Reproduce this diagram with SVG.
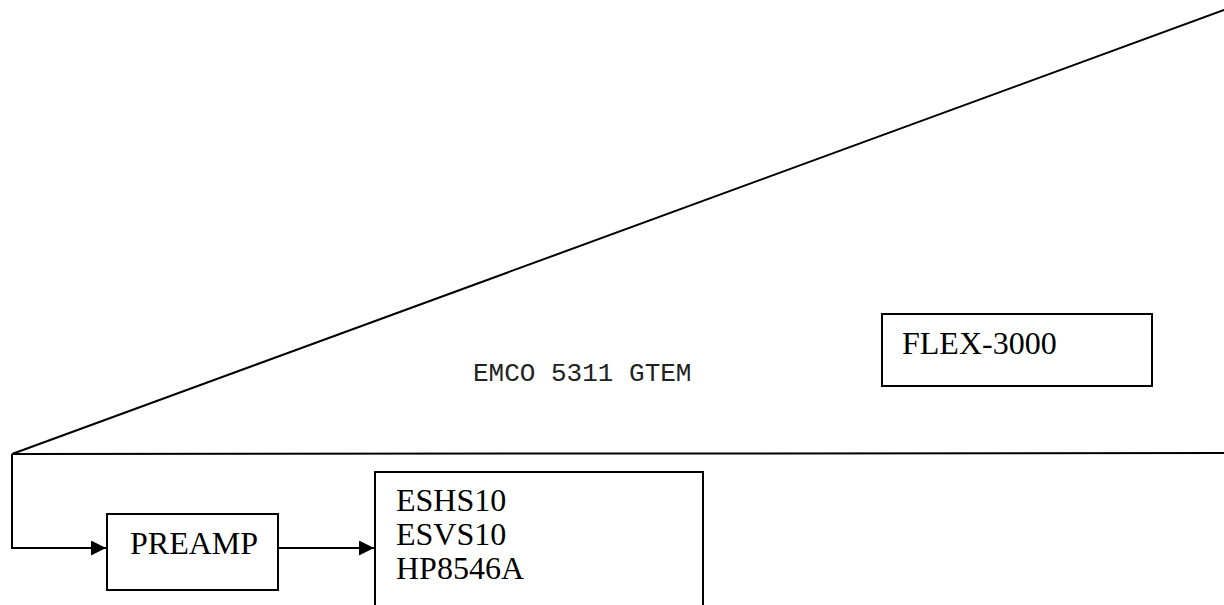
<svg xmlns="http://www.w3.org/2000/svg" width="1224" height="605" viewBox="0 0 1224 605">
<defs>
<style>
.ln{fill:none;stroke:#000;stroke-width:2}
.box{fill:#fff;stroke:#000;stroke-width:2}
.t{font-family:"Liberation Serif","Times New Roman",serif;font-size:32px;fill:#000}
.m{font-family:"Liberation Mono","Courier New",monospace;font-size:26px;fill:#222}
</style>
<marker id="ah" markerWidth="15" markerHeight="15" viewBox="0 0 15 15" refX="15" refY="7.5" orient="auto" markerUnits="userSpaceOnUse">
<path d="M0,0 L15,7.5 L0,15 Z" fill="#000"/>
</marker>
</defs>
<rect width="1224" height="605" fill="#fff"/>
<g id="gtem">
<polyline class="ln" points="1224,10 12,454 1224,453"/>
<text class="m" x="473" y="381">EMCO 5311 GTEM</text>
</g>
<g id="connectors">
<polyline class="ln" points="12,454 12,548 106,548" marker-end="url(#ah)"/>
<line class="ln" x1="278" y1="548" x2="374" y2="548" marker-end="url(#ah)"/>
</g>
<g id="flex">
<rect class="box" x="882" y="314" width="270" height="72"/>
<text class="t" x="902" y="354">FLEX-3000</text>
</g>
<g id="preamp">
<rect class="box" x="107" y="514" width="171" height="76"/>
<text class="t" x="130" y="554">PREAMP</text>
</g>
<g id="receivers">
<rect class="box" x="375" y="472" width="328" height="150"/>
<text class="t" x="396" y="511">ESHS10</text>
<text class="t" x="396" y="545">ESVS10</text>
<text class="t" x="396" y="579">HP8546A</text>
</g>
</svg>
